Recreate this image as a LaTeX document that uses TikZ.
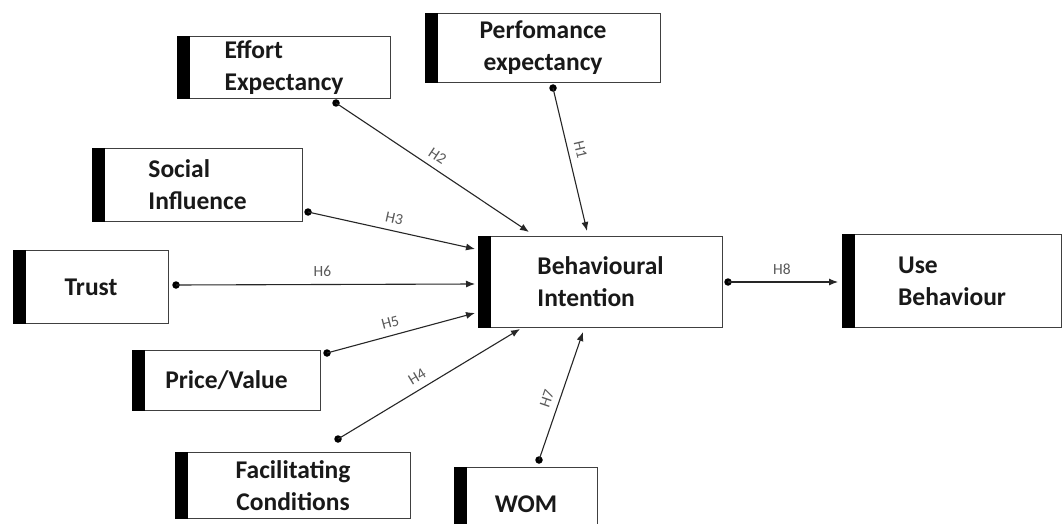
\documentclass[tikz,border=0pt]{standalone}
\usepackage{fontspec}
\setmainfont{Carlito}
\usetikzlibrary{arrows.meta}
\begin{document}
\begin{tikzpicture}[x=1pt,y=-1pt,
  cbox/.style={draw=black!75, line width=1.1pt, rectangle, anchor=north west, inner sep=0pt, align=left, font=\bfseries\fontsize{25.5}{32}\selectfont, text=black!90},
  barfill/.style={fill=black},
  link/.style={draw=black!85, line width=1.1pt, -{Latex[length=9pt,width=7pt]}},
  dotnode/.style={circle, fill=black, inner sep=0pt, minimum size=7.5pt},
  hlab/.style={sloped, above=7pt, font=\fontsize{15.5}{15.5}\selectfont, text=black!65, inner sep=0pt}
]
\fill[white] (0,0) rectangle (1063,524);
\useasboundingbox (0,0) rectangle (1063,524);

% boxes
\node[cbox, minimum width=213pt, minimum height=62pt] (ee) at (177,36) {Effort\\Expectancy};
\node[cbox, minimum width=235pt, minimum height=69pt, align=center] (pe) at (425,13) {Perfomance\\expectancy};
\node[cbox, minimum width=210pt, minimum height=73pt] (si) at (92,148) {Social\\Influence};
\node[cbox, minimum width=155pt, minimum height=73pt] (tr) at (13,250) {Trust};
\node[cbox, minimum width=244pt, minimum height=91pt] (bi) at (478,236) {Behavioural\\Intention};
\node[cbox, minimum width=219pt, minimum height=93pt] (ub) at (842,234) {Use\\Behaviour};
\node[cbox, minimum width=188pt, minimum height=60pt] (pv) at (132,350) {Price/Value};
\node[cbox, minimum width=235pt, minimum height=66pt, align=center] (fc) at (175,452) {Facilitating\\Conditions};
\node[cbox, minimum width=143pt, minimum height=73pt] (wom) at (454,467) {WOM};

% bars
\foreach \b in {ee,pe,si,tr,bi,ub,pv,fc,wom}{
  \fill[barfill] (\b.north west) rectangle ([xshift=13pt]\b.south west);
}

% start dots
\node[dotnode] (eeD) at (336,103) {};
\node[dotnode] (peD) at (553,88) {};
\node[dotnode] (siD) at (308,212) {};
\node[dotnode] (trD) at (176,285) {};
\node[dotnode] (pvD) at (327,353) {};
\node[dotnode] (fcD) at (338,439) {};
\node[dotnode] (womD) at (539,460) {};
\node[dotnode] (biD) at (728,282) {};

% arrow ends
\coordinate (biH2) at (529,232);
\coordinate (biH1) at (587,231);
\coordinate (biH3) at (475,249);
\coordinate (biH6) at (475,284);
\coordinate (biH5) at (475,313);
\coordinate (biH4) at (520,329);
\coordinate (biH7) at (583,332);
\coordinate (ubH8) at (838,282);

% connectors
\draw[link] (eeD.center) -- (biH2) node[hlab, pos=0.49] {H2};
\draw[link] (peD.center) -- (biH1) node[hlab, pos=0.45] {H1};
\draw[link] (siD.center) -- (biH3) node[hlab, pos=0.5] {H3};
\draw[link] (trD.center) -- (biH6) node[hlab, pos=0.49] {H6};
\draw[link] (pvD.center) -- (biH5) node[hlab, pos=0.45] {H5};
\draw[link] (fcD.center) -- (biH4) node[hlab, pos=0.47] {H4};
\draw[link] (womD.center) -- (biH7) node[hlab, pos=0.45] {H7};
\draw[link] (biD.center) -- (ubH8) node[hlab, pos=0.49] {H8};
\end{tikzpicture}
\end{document}
